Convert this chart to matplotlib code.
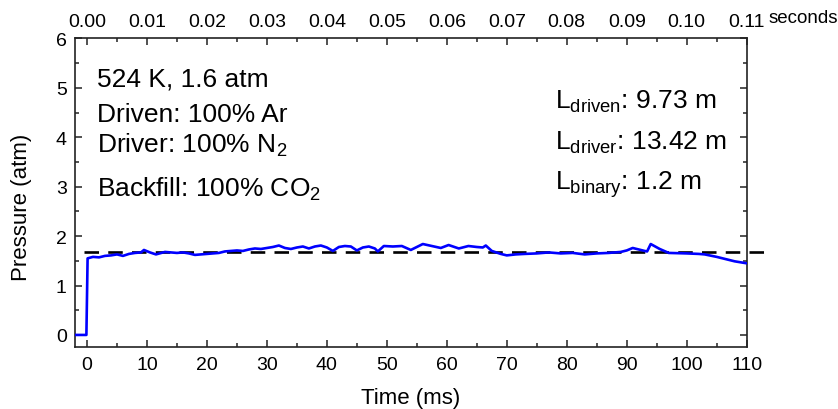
import numpy as np
import matplotlib
matplotlib.use("Agg")
import matplotlib.pyplot as plt
from matplotlib.ticker import MultipleLocator

plt.rcParams['font.family'] = ['Liberation Sans', 'DejaVu Sans']
plt.rcParams['mathtext.fontset'] = 'custom'
plt.rcParams['mathtext.rm'] = 'Liberation Sans'

# ---------------------------------------------------------------- data
# pressure trace (ms, atm)
time_ms = [-2, -0.1, 0.1, 1, 2, 3, 4, 5, 6, 7,
           8, 9, 9.5, 10.5, 11.5, 13, 14, 15, 16, 17,
           18, 19, 20, 21, 22, 23, 24, 25, 26, 27,
           28, 29, 30, 31, 32, 33, 34, 35, 36, 37,
           38, 39, 40, 41, 42, 43, 44, 45, 46, 47,
           48, 48.5, 49.5, 51, 52.5, 54, 56, 57.5, 59, 60.3,
           62, 63.6, 65, 66, 66.5, 67.5, 69, 70, 71.5, 73,
           75, 77, 79, 81, 83, 85, 87, 89, 90, 91,
           92, 93, 93.4, 94, 95.5, 97, 100, 102, 103, 105,
           107, 108, 110]
pressure_atm = [0, 0, 1.55, 1.58, 1.57, 1.60, 1.61, 1.63, 1.60, 1.64,
                1.66, 1.67, 1.72, 1.67, 1.63, 1.68, 1.67, 1.66, 1.67, 1.65,
                1.62, 1.63, 1.64, 1.65, 1.66, 1.69, 1.70, 1.71, 1.70, 1.73,
                1.75, 1.74, 1.76, 1.78, 1.81, 1.76, 1.74, 1.77, 1.79, 1.75,
                1.79, 1.81, 1.77, 1.70, 1.78, 1.80, 1.79, 1.71, 1.77, 1.79,
                1.75, 1.69, 1.80, 1.79, 1.80, 1.72, 1.84, 1.80, 1.76, 1.82,
                1.75, 1.80, 1.78, 1.77, 1.81, 1.70, 1.64, 1.61, 1.63, 1.64,
                1.65, 1.67, 1.65, 1.66, 1.63, 1.65, 1.66, 1.68, 1.71, 1.76,
                1.73, 1.70, 1.69, 1.84, 1.74, 1.66, 1.65, 1.64, 1.63, 1.58,
                1.52, 1.49, 1.45]

# target pressure (dashed reference)
p_target = 1.68
target_span = [-0.5, 113.5]

cond_lines = ["524 K, 1.6 atm",
              "Driven: 100% Ar",
              r"Driver: 100% N$\mathregular{_2}$",
              r"Backfill: 100% CO$\mathregular{_2}$"]
length_lines = [r"L$\mathregular{_{driven}}$: 9.73 m",
                r"L$\mathregular{_{driver}}$: 13.42 m",
                r"L$\mathregular{_{binary}}$: 1.2 m"]

major_ms = np.arange(0, 111, 10)

# ---------------------------------------------------------------- figure
fig = plt.figure(figsize=(8.38, 4.10), dpi=100)
ax = fig.add_axes([0.0895, 0.1505, 0.8015, 0.7532])

ax.plot(time_ms, pressure_atm, color='#0000ff', lw=1.9, zorder=3)
ax.plot(target_span, [p_target, p_target], color='black', lw=1.9,
        dashes=(5.5, 3.5), clip_on=False, zorder=2)

ax.set_xlim(-2, 110)
ax.set_ylim(-0.25, 6)
ax.xaxis.set_major_locator(MultipleLocator(10))
ax.xaxis.set_minor_locator(MultipleLocator(5))
ax.yaxis.set_major_locator(MultipleLocator(1))
ax.yaxis.set_minor_locator(MultipleLocator(0.5))
ax.tick_params(which='both', direction='in', top=False, right=True,
               labelsize=14, width=1.1, colors='#222222', labelcolor='black')
ax.tick_params(which='major', length=5, pad=6)
ax.tick_params(which='minor', length=3)
for s in ax.spines.values():
    s.set_linewidth(1.2)
    s.set_color('#222222')

ax.set_xlabel("Time (ms)", fontsize=16, labelpad=10)
fig.text(21 / 838, 1 - 207 / 410, "Pressure (atm)", fontsize=16,
         rotation=90, ha='center', va='center')

# top axis in seconds
ax2 = ax.twiny()
ax2.set_xlim(ax.get_xlim())
ax2.set_xticks(major_ms)
ax2.set_xticklabels(["%.2f" % (t / 1000.0) for t in major_ms])
ax2.xaxis.set_minor_locator(MultipleLocator(5))
ax2.tick_params(which='both', direction='in', labelsize=14, width=1.1,
                colors='#222222', labelcolor='black')
ax2.tick_params(which='major', length=5, pad=6)
ax2.tick_params(which='minor', length=3)
for s in ax2.spines.values():
    s.set_visible(False)
fig.text(0.9165, 0.944, "seconds", fontsize=13.5, va='baseline', ha='left')

# run conditions
cond_y = [86.7, 121.7, 153.0, 196.7]
for txt, yp in zip(cond_lines, cond_y):
    fig.text(96.5 / 838, 1 - yp / 410, txt, fontsize=19, va='baseline',
             ha='left')

len_y = [108.5, 150.0, 190.0]
for txt, yp in zip(length_lines, len_y):
    fig.text(555 / 838, 1 - yp / 410, txt, fontsize=19, va='baseline',
             ha='left')

fig.savefig("out.png", dpi=100)
